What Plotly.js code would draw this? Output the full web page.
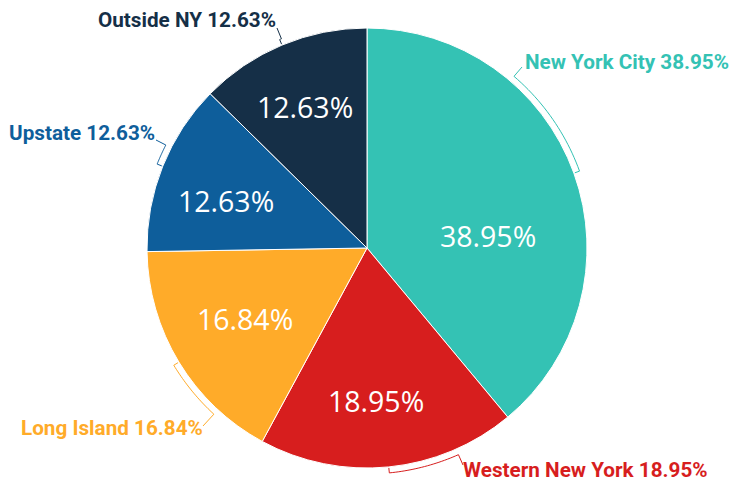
<!DOCTYPE html>
<html>
<head>
<meta charset="utf-8">
<script src="https://cdn.plot.ly/plotly-3.0.1.min.js"></script>
<style>html,body{margin:0;padding:0;background:#fff;}#chart{width:730px;height:483px;}</style>
</head>
<body>
<div id="chart"></div>
<script>
// ---- data ----
const regions = ['New York City', 'Western New York', 'Long Island', 'Upstate', 'Outside NY'];
const shares = [38.95, 18.95, 16.84, 12.63, 12.63];
const sliceColors = ['#34C2B4', '#D71E1E', '#FFAB29', '#0E5E9B', '#152F47'];

// ---- layout geometry (pixels) ----
const W = 730, H = 483;
const cx = 367, cy = 248, R = 220;
// outside label placement: text anchor point, alignment, connector attach point
const labelPlace = [
  {x: 523, y: 62, xa: 'left', ax: 522, ay: 67},
  {x: 461, y: 470, xa: 'left', ax: 463, ay: 465},
  {x: 205, y: 428, xa: 'right', ax: 203, ay: 426},
  {x: 157, y: 133, xa: 'right', ax: 156, ay: 140},
  {x: 278, y: 20, xa: 'right', ax: 277, ay: 28}
];
// inside (percentage) label centres
const insidePlace = [[488, 234], [375.5, 399], [244.5, 317], [226, 199], [305, 105.5]];

const px = x => x / W;
const py = y => 1 - y / H;
const pt = (r, deg) => {
  const a = deg * Math.PI / 180;
  return [cx + r * Math.sin(a), cy - r * Math.cos(a)];
};

const total = shares.reduce((a, b) => a + b, 0);
let cum = 0;
const shapes = [], annotations = [];
shares.forEach((v, i) => {
  const mid = (cum + v / 2) / total * 360;
  cum += v;
  const lp = labelPlace[i];
  let crook = Math.atan2(lp.ax - cx, -(lp.ay - cy)) * 180 / Math.PI;
  if (crook < 0) crook += 360;
  const rr = R + 6;
  const pts = [[lp.ax, lp.ay]];
  const steps = 24;
  for (let k = 0; k <= steps; k++) {
    pts.push(pt(rr, crook + (mid - crook) * k / steps));
  }
  pts.push(pt(R + 1, mid));
  const d = pts.map((p, k) => (k ? 'L' : 'M') + px(p[0]).toFixed(5) + ',' + py(p[1]).toFixed(5)).join(' ');
  shapes.push({type: 'path', xref: 'paper', yref: 'paper', path: d,
    line: {color: sliceColors[i], width: 1}, layer: 'above'});
  annotations.push({
    xref: 'paper', yref: 'paper', x: px(lp.x), y: py(lp.y),
    xanchor: lp.xa, yanchor: 'middle', showarrow: false,
    text: regions[i] + ' ' + v.toFixed(2) + '%',
    font: {family: 'Roboto', size: 20.7, color: sliceColors[i], weight: 'bold'}
  });
  const ip = insidePlace[i];
  annotations.push({
    xref: 'paper', yref: 'paper', x: px(ip[0]), y: py(ip[1] + 1.5),
    xanchor: 'center', yanchor: 'middle', showarrow: false,
    text: v.toFixed(2) + '%',
    font: {family: 'Open Sans', size: 28.5, color: '#ffffff'}
  });
});

const trace = {
  type: 'pie',
  labels: regions,
  values: shares,
  sort: false,
  direction: 'clockwise',
  rotation: 0,
  marker: {colors: sliceColors, line: {color: '#ffffff', width: 1}},
  textinfo: 'none',
  hoverinfo: 'none',
  domain: {x: [px(cx - R), px(cx + R)], y: [py(cy + R), py(cy - R)]}
};

const layout = {
  width: W, height: H,
  margin: {l: 0, r: 0, t: 0, b: 0},
  paper_bgcolor: '#ffffff',
  showlegend: false,
  shapes: shapes,
  annotations: annotations
};

Plotly.newPlot('chart', [trace], layout, {displayModeBar: false, staticPlot: true});
</script>
</body>
</html>
